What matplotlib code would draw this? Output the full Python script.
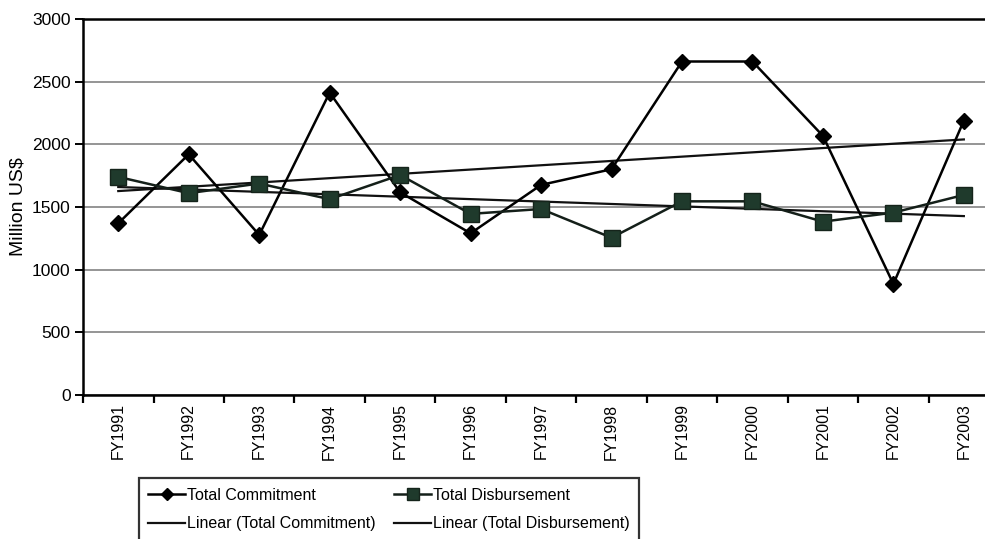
import matplotlib.pyplot as plt
import numpy as np

plt.rcParams['font.family'] = ['Liberation Sans', 'DejaVu Sans']

years = ['FY1991', 'FY1992', 'FY1993', 'FY1994', 'FY1995', 'FY1996', 'FY1997',
         'FY1998', 'FY1999', 'FY2000', 'FY2001', 'FY2002', 'FY2003']
commitment = [1370, 1920, 1277, 2412, 1617, 1290, 1676, 1801, 2660, 2660, 2067, 886, 2189]
disbursement = [1740, 1610, 1687, 1562, 1755, 1445, 1484, 1255, 1545, 1545, 1383, 1455, 1596]

x = np.arange(len(years))

# least squares trend, as a spreadsheet "Linear" trendline would draw it
fit_c = np.polyfit(x, commitment, 1)
fit_d = np.polyfit(x, disbursement, 1)

fig = plt.figure(figsize=(9.85, 5.39), dpi=100)
ax = fig.add_axes([0.0843, 0.267, 0.93, 0.698])

ax.set_ylim(0, 3000)
ax.set_xlim(-0.5, len(years) - 0.5)
ax.set_yticks(range(0, 3001, 500))
ax.yaxis.grid(True, color='#8c8c8c', linewidth=1.3)
ax.set_axisbelow(True)

ax.plot(x, commitment, color='black', lw=1.8, marker='D', ms=8,
        mfc='black', mec='black', label='Total Commitment', zorder=4)
ax.plot(x, disbursement, color='#141f19', lw=1.8, marker='s', ms=11,
        mfc='#1f3a2c', mec='#15241b', label='Total Disbursement', zorder=4)
ax.plot(x, np.polyval(fit_c, x), color='#111111', lw=1.6,
        label='Linear (Total Commitment)', zorder=3)
ax.plot(x, np.polyval(fit_d, x), color='#111111', lw=1.6,
        label='Linear (Total Disbursement)', zorder=3)

# category labels centred, tick marks between categories
ax.set_xticks(x)
ax.set_xticklabels(years, rotation=90, fontsize=11.5)
ax.set_xticks(np.arange(-0.5, len(years), 1.0), minor=True)
ax.tick_params(axis='x', which='major', length=0, pad=6)
ax.tick_params(axis='x', which='minor', length=6, width=1.6, direction='out')
ax.tick_params(axis='y', length=6, width=1.4, labelsize=12.5, pad=3)

for side in ['left', 'bottom', 'top']:
    ax.spines[side].set_linewidth(1.8)
ax.spines['right'].set_visible(False)

ax.set_ylabel('Million US$', fontsize=14, labelpad=4)

# legend box runs past the bottom edge of the figure
handles, labels = ax.get_legend_handles_labels()
order = [0, 2, 1, 3]
lgd = ax.legend([handles[i] for i in order], [labels[i] for i in order],
                ncol=2, loc='upper left', bbox_to_anchor=(0.052, -0.2),
                frameon=True, fancybox=False, edgecolor='black', fontsize=11.5,
                handlelength=2.3, handletextpad=0.1, columnspacing=1.2,
                borderpad=0.6, labelspacing=0.85, markerscale=0.8)
lgd.get_frame().set_linewidth(1.6)

fig.savefig('out.png', dpi=100)
